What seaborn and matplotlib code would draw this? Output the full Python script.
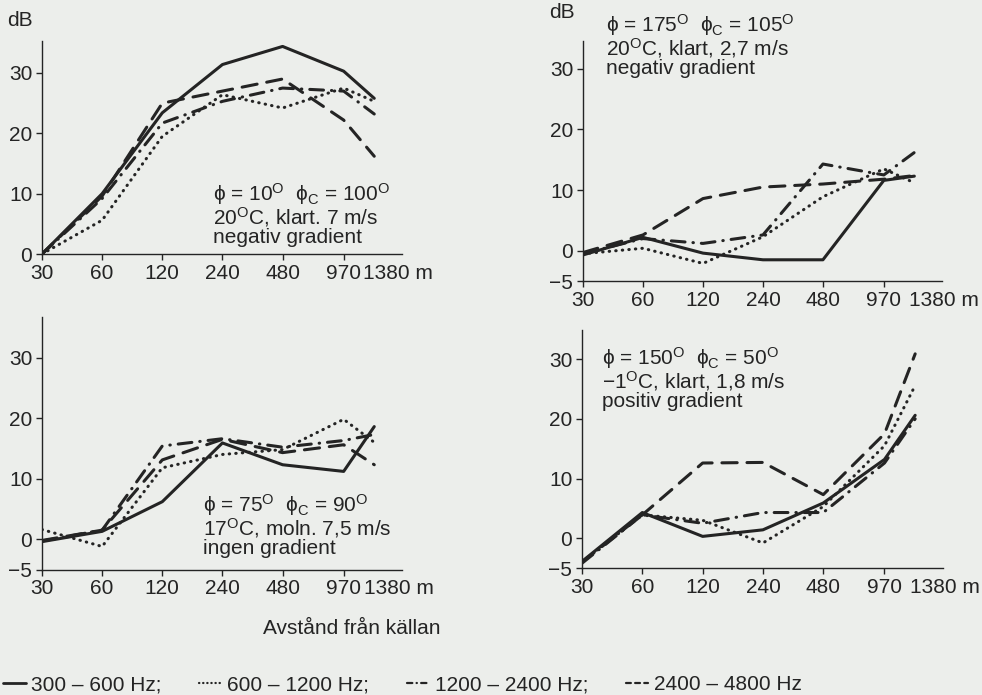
import numpy as np
import pandas as pd
import matplotlib
matplotlib.use("Agg")
import matplotlib.pyplot as plt
import matplotlib.transforms as mtransforms
from matplotlib.lines import Line2D
from matplotlib.ticker import NullLocator
import seaborn as sns

# ---------------- data ----------------
distances = [30, 60, 120, 240, 480, 970, 1380]
tick_labels = ["30", "60", "120", "240", "480", "970", "1380 m"]
bands = ["300 – 600 Hz", "600 – 1200 Hz", "1200 – 2400 Hz", "2400 – 4800 Hz"]

# panel 1: phi = 10, phi_c = 100
p1_300 = [0.0, 10.0, 23.4, 31.4, 34.4, 30.3, 25.8]
p1_600 = [0.0, 5.6, 19.5, 26.4, 24.2, 27.5, 25.3]
p1_1200 = [0.0, 9.2, 21.7, 25.3, 27.5, 27.0, 23.2]
p1_2400 = [0.0, 9.6, 25.0, 27.0, 29.0, 22.2, 16.2]

# panel 2: phi = 175, phi_c = 105
p2_300 = [-0.7, 2.2, -0.4, -1.5, -1.5, 11.6, 12.3]
p2_600 = [-0.5, 0.4, -2.1, 2.3, 8.9, 13.5, 11.2]
p2_1200 = [-0.5, 2.0, 1.2, 2.6, 14.3, 12.5, 16.2]
p2_2400 = [-0.3, 2.6, 8.6, 10.5, 11.0, 11.8, 12.4]

# panel 3: phi = 75, phi_c = 90
p3_300 = [-0.4, 1.3, 6.2, 15.9, 12.3, 11.2, 18.6]
p3_600 = [1.6, -1.2, 11.8, 14.0, 14.8, 19.8, 16.0]
p3_1200 = [-0.3, 1.5, 15.4, 16.6, 15.2, 16.3, 17.3]
p3_2400 = [-0.2, 1.5, 13.1, 16.5, 14.3, 15.6, 12.3]

# panel 4: phi = 150, phi_c = 50
p4_300 = [-3.9, 4.3, 0.3, 1.4, 5.9, 13.2, 20.6]
p4_600 = [-4.0, 3.9, 3.0, -0.8, 5.3, 15.5, 25.6]
p4_1200 = [-4.2, 3.9, 2.5, 4.3, 4.3, 12.6, 20.0]
p4_2400 = [-4.0, 3.9, 12.6, 12.7, 7.3, 17.5, 30.9]

notes1 = [r"$\phi$ = 10$^{\rm O}$  $\phi_{\rm C}$ = 100$^{\rm O}$",
          r"20$^{\rm O}$C, klart. 7 m/s", "negativ gradient"]
notes2 = [r"$\phi$ = 175$^{\rm O}$  $\phi_{\rm C}$ = 105$^{\rm O}$",
          r"20$^{\rm O}$C, klart, 2,7 m/s", "negativ gradient"]
notes3 = [r"$\phi$ = 75$^{\rm O}$  $\phi_{\rm C}$ = 90$^{\rm O}$",
          r"17$^{\rm O}$C, moln. 7,5 m/s", "ingen gradient"]
notes4 = [r"$\phi$ = 150$^{\rm O}$  $\phi_{\rm C}$ = 50$^{\rm O}$",
          r"$-$1$^{\rm O}$C, klart, 1,8 m/s", "positiv gradient"]

xlabel_text = "Avstånd från källan"
ylabel_text = "dB"

# ---------------- style ----------------
sns.set_style("ticks")
INK = "#242424"
PAPER = "#eceeeb"
plt.rcParams["font.family"] = ["Liberation Sans", "DejaVu Sans"]
plt.rcParams["mathtext.fontset"] = "custom"
plt.rcParams["mathtext.rm"] = "Liberation Sans"
plt.rcParams["mathtext.it"] = "Liberation Sans:italic"
plt.rcParams["mathtext.bf"] = "Liberation Sans:bold"
plt.rcParams["mathtext.sf"] = "Liberation Sans"
plt.rcParams["mathtext.default"] = "rm"
plt.rcParams["mathtext.fallback"] = "stixsans"
plt.rcParams["text.color"] = INK
plt.rcParams["xtick.color"] = INK
plt.rcParams["ytick.color"] = INK
plt.rcParams["axes.edgecolor"] = INK

FS = 15
W, H = 982, 695
fig = plt.figure(figsize=(W / 100, H / 100), dpi=100, facecolor=PAPER)

dash_map = {
    bands[0]: "",
    bands[1]: (0.15, 2.0),
    bands[2]: (4.5, 2.6, 0.15, 2.6),
    bands[3]: (5.0, 3.2),
}
legend_dashes = {
    bands[1]: (0.15, 1.7),
    bands[2]: (2.4, 1.9, 0.15, 1.9),
    bands[3]: (2.2, 1.9),
}


def px_rect(left, top, right, bottom):
    return [left / W, 1 - bottom / H, (right - left) / W, (bottom - top) / H]


# rect, ylim, yticks, series, notes, note x (px), baseline of last note line (px), 1380-label shift
panels = [
    (px_rect(42, 41, 402, 254), (0, 35.3), [0, 10, 20, 30],
     [p1_300, p1_600, p1_1200, p1_2400], notes1, 213, 243, 11),
    (px_rect(583, 41, 942, 281), (-5, 34.6), [-5, 0, 10, 20, 30],
     [p2_300, p2_600, p2_1200, p2_2400], notes2, 606, 74, 5),
    (px_rect(42, 317, 402, 569.5), (-5, 36.7), [-5, 0, 10, 20, 30],
     [p3_300, p3_600, p3_1200, p3_2400], notes3, 203, 554, 10),
    (px_rect(582, 330, 943, 568), (-5, 34.9), [-5, 0, 10, 20, 30],
     [p4_300, p4_600, p4_1200, p4_2400], notes4, 602, 407, 5),
]

for rect, ylim, yticks, series, notes, nx, ny, lab_off in panels:
    ax = fig.add_axes(rect)
    ax.set_facecolor(PAPER)
    rows = []
    for band, vals in zip(bands, series):
        for d, v in zip(distances, vals):
            rows.append({"dist": d, "dB": v, "band": band})
    df = pd.DataFrame(rows)
    sns.lineplot(data=df, x="dist", y="dB", style="band", style_order=bands,
                 dashes=dash_map, color=INK, lw=2.2, ax=ax, legend=False,
                 estimator=None, sort=False, errorbar=None)
    for ln in ax.lines:
        ln.set_dash_capstyle("round")
        ln.set_solid_capstyle("round")
    ax.set_xscale("log", base=2)
    ax.set_xlim(30, 1900)
    ax.set_ylim(*ylim)
    ax.set_xticks(distances)
    ax.set_xticklabels(tick_labels)
    ax.xaxis.set_minor_locator(NullLocator())
    ax.set_yticks(yticks)
    ax.set_yticklabels([("\u2212" + str(-t)) if t < 0 else str(t) for t in yticks])
    ax.set_xlabel("")
    ax.set_ylabel("")
    for s in ["top", "right"]:
        ax.spines[s].set_visible(False)
    for s in ["left", "bottom"]:
        ax.spines[s].set_linewidth(1.0)
        ax.spines[s].set_color(INK)
    ax.tick_params(axis="both", labelsize=FS, length=4, width=1.0, pad=3,
                   direction="out")
    ticks = ax.xaxis.get_major_ticks()
    ticks[-1].tick1line.set_visible(False)
    lab = ax.get_xticklabels()[-1]
    lab.set_ha("left")
    lab.set_transform(lab.get_transform() +
                      mtransforms.ScaledTranslation(-lab_off / 100, 0, fig.dpi_scale_trans))
    fig.text(nx / W, 1 - ny / H, "\n".join(notes), fontsize=FS, va="baseline",
             ha="left", linespacing=0.92)

fig.text(20 / W, 1 - 20 / H, ylabel_text, fontsize=FS, ha="center", va="center")
fig.text(562 / W, 1 - 12 / H, ylabel_text, fontsize=FS, ha="center", va="center")
fig.text(352 / W, 1 - 629 / H, xlabel_text, fontsize=FS, ha="center", va="center")

handles = [Line2D([0], [0], color=INK, lw=2.0)]
for b in bands[1:]:
    handles.append(Line2D([0], [0], color=INK, lw=1.6, dashes=legend_dashes[b],
                          dash_capstyle="round"))
labels = [bands[0] + ";", bands[1] + ";", bands[2] + ";", bands[3]]
leg = fig.legend(handles, labels, loc="center left", bbox_to_anchor=(3 / W, 1 - 685 / H),
                 ncol=4, frameon=False, fontsize=FS, handlelength=1.1,
                 handletextpad=0.25, columnspacing=1.8, borderpad=0, borderaxespad=0)

fig.savefig("out.png", dpi=100, facecolor=PAPER)
